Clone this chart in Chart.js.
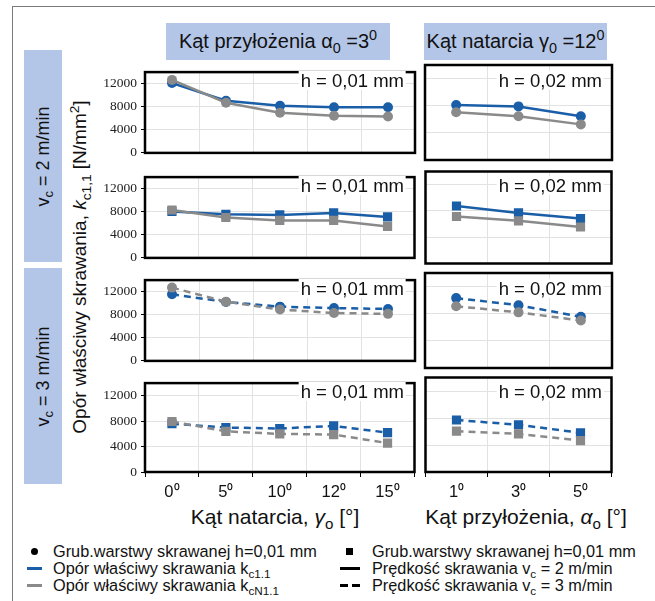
<!DOCTYPE html>
<html>
<head>
<meta charset="utf-8">
<script src="https://cdn.jsdelivr.net/npm/chart.js@4.4.1/dist/chart.umd.min.js"></script>
<style>
  body { margin: 0; background: #fff; font-family: "Liberation Sans", Arial, sans-serif; color: #111; }
  #page { position: relative; width: 655px; height: 601px; overflow: hidden; }
  .frame { position: absolute; left: 12px; top: 6px; width: 700px; height: 700px; border-left: 1px solid #7a7a7a; border-top: 1px solid #7a7a7a; }
  .box { position: absolute; background: #b4c6e7; display: flex; align-items: center; justify-content: center; font-size: 20px; white-space: nowrap; }
  .rot { transform: rotate(-90deg); white-space: nowrap; }
  .panel { position: absolute; }
  .hlab { position: absolute; background: #fff; font-size: 18.5px; line-height: 19px; white-space: nowrap; padding: 0 2px; transform: translateX(-100%); }
  .xtitle { position: absolute; font-size: 21px; white-space: nowrap; transform: translateX(-50%); }
  .ytitle { position: absolute; font-size: 19px; white-space: nowrap; }
  .leg { position: absolute; font-size: 16.3px; white-space: nowrap; line-height: 17px; }
  .mk { position: absolute; background: #000; }
  sub, sup { font-size: 72%; line-height: 0; }
</style>
</head>
<body>
<div id="page">
  <div class="frame"></div>

  <div class="box" style="left:166px;top:23px;width:224px;height:37px;"><span>Kąt przyłożenia α<sub>0</sub> =3<sup>0</sup></span></div>
  <div class="box" style="left:424px;top:23px;width:183px;height:37px;"><span>Kąt natarcia γ<sub>0</sub> =12<sup>0</sup></span></div>

  <div class="box" style="left:24px;top:50px;width:38px;height:212px;font-size:18px;"><span class="rot">v<sub>c</sub> = 2 m/min</span></div>
  <div class="box" style="left:24px;top:268px;width:38px;height:216px;font-size:18px;"><span class="rot">v<sub>c</sub> = 3 m/min</span></div>

  <div class="ytitle rot" style="left:-95px;top:256px;width:350px;text-align:center;">Opór właściwy skrawania, <i>k</i><sub>c1,1</sub> [N/mm<sup>2</sup>]</div>

  <div class="xtitle" style="left:275px;top:505px;">Kąt natarcia, <i>γ</i><sub>o</sub> [°]</div>
  <div class="xtitle" style="left:526px;top:505px;">Kąt przyłożenia, <i>α</i><sub>o</sub> [°]</div>

  <!-- legenda -->
  <div class="mk" style="left:31px;top:548px;width:7px;height:7px;border-radius:50%;"></div>
  <div class="leg" style="left:53px;top:543px;">Grub.warstwy skrawanej h=0,01 mm</div>
  <div class="mk" style="left:27px;top:567px;width:15px;height:3px;background:#1a5ea8;"></div>
  <div class="leg" style="left:53px;top:560px;">Opór właściwy skrawania k<sub>c1.1</sub></div>
  <div class="mk" style="left:27px;top:584px;width:15px;height:3px;background:#8a8a8a;"></div>
  <div class="leg" style="left:53px;top:577px;">Opór właściwy skrawania k<sub>cN1.1</sub></div>

  <div class="mk" style="left:346px;top:548px;width:7px;height:7px;"></div>
  <div class="leg" style="left:372px;top:543px;">Grub.warstwy skrawanej h=0,01 mm</div>
  <div class="mk" style="left:340px;top:567px;width:20px;height:3px;"></div>
  <div class="leg" style="left:372px;top:560px;">Prędkość skrawania v<sub>c</sub> = 2 m/min</div>
  <div class="mk" style="left:340px;top:584px;width:8px;height:3px;"></div>
  <div class="mk" style="left:352px;top:584px;width:8px;height:3px;"></div>
  <div class="leg" style="left:372px;top:577px;">Prędkość skrawania v<sub>c</sub> = 3 m/min</div>
</div>

<script>
// kategorie osi X
const gammaLabels = ['0\u2070', '5\u2070', '10\u2070', '12\u2070', '15\u2070'];
const alphaLabels = ['1\u2070', '3\u2070', '5\u2070'];
const yTicks = [0, 4000, 8000, 12000];

// lewa kolumna (alfa0 = 3), zmienny kat natarcia
const kc_v2_circ_g  = [12100, 9050, 8150, 7900, 7900];
const kcN_v2_circ_g = [12650, 8700, 6950, 6450, 6300];
const kc_v2_sq_g    = [8050, 7550, 7450, 7800, 7100];
const kcN_v2_sq_g   = [8300, 7000, 6500, 6500, 5450];
const kc_v3_circ_g  = [11550, 10200, 9400, 9150, 9000];
const kcN_v3_circ_g = [12700, 10250, 8900, 8300, 8150];
const kc_v3_sq_g    = [7600, 7000, 6850, 7250, 6200];
const kcN_v3_sq_g   = [7950, 6400, 6000, 5900, 4550];

// prawa kolumna (gamma0 = 12), zmienny kat przylozenia
const kc_v2_circ_a  = [8100, 7900, 6450];
const kcN_v2_circ_a = [7050, 6450, 5250];
const kc_v2_sq_a    = [8750, 7700, 6850];
const kcN_v2_sq_a   = [7150, 6500, 5550];
const kc_v3_circ_a  = [10300, 9250, 7550];
const kcN_v3_circ_a = [9100, 8200, 7000];
const kc_v3_sq_a    = [7700, 7000, 5800];
const kcN_v3_sq_a   = [6050, 5650, 4650];

const BLUE = '#1a5ea8';
const GRAY = '#8a8a8a';
const GRID = '#e2e2e2';

// gruba ramka dookola obszaru wykresu
const frameBorder = {
  id: 'frameBorder',
  beforeDatasetsDraw(chart) {
    const a = chart.chartArea, c = chart.ctx;
    c.save();
    c.strokeStyle = '#000';
    c.lineWidth = 2.5;
    c.strokeRect(a.left, a.top, a.right - a.left, a.bottom - a.top);
    c.restore();
  }
};

const page = document.getElementById('page');
const rowTops = [64, 169, 272, 375];
const PH = 97;

function makePanel(row, left, labels, kc, kcN, square, dashed, hText) {
  const bottom = row === 3;
  const div = document.createElement('div');
  div.className = 'panel';
  const cx = left ? 85 : 419;
  const cw = left ? 336 : 199;
  const ch = 4 + PH + (bottom ? 38 : 4);
  div.style.cssText = `left:${cx}px;top:${rowTops[row] - 4}px;width:${cw}px;height:${ch}px;`;
  const cv = document.createElement('canvas');
  div.appendChild(cv);
  page.appendChild(div);

  const ds = (data, color) => ({
    data: data,
    borderColor: color,
    backgroundColor: color,
    borderWidth: 2.5,
    borderDash: dashed ? [7, 5] : [],
    pointStyle: square ? 'rect' : 'circle',
    pointRadius: square ? 6.5 : 5,
    pointBorderWidth: 0,
    tension: 0
  });

  new Chart(cv, {
    type: 'line',
    data: { labels: labels, datasets: [ds(kcN, GRAY), ds(kc, BLUE)] },
    options: {
      responsive: true,
      maintainAspectRatio: false,
      animation: false,
      events: [],
      layout: { padding: { top: 4, right: 6, left: left ? 0 : 6, bottom: bottom ? 0 : 4 } },
      plugins: { legend: { display: false }, tooltip: { enabled: false } },
      scales: {
        x: {
          offset: true,
          border: { display: false },
          grid: { color: GRID, offset: true, drawTicks: bottom, tickLength: 5, tickColor: '#000' },
          ticks: { display: bottom, color: '#111', font: { family: 'Liberation Sans', size: 16.5 }, padding: 6, maxRotation: 0 },
          afterFit: s => { s.height = bottom ? 38 : 0; }
        },
        y: {
          min: 0,
          max: 14000,
          border: { display: false },
          grid: { color: GRID, drawTicks: left, tickLength: 4, tickColor: '#000' },
          ticks: { display: left, color: '#222', padding: 4, font: { family: "'Liberation Serif', 'DejaVu Serif', serif", size: 13.5 }, callback: v => String(v) },
          afterBuildTicks: s => { s.ticks = yTicks.map(v => ({ value: v })); },
          afterFit: s => { s.width = left ? 60 : 0; }
        }
      }
    },
    plugins: [frameBorder]
  });

  const lab = document.createElement('div');
  lab.className = 'hlab';
  lab.textContent = hText;
  lab.style.top = (rowTops[row] + 7) + 'px';
  lab.style.left = (left ? 406 : 604) + 'px';
  page.appendChild(lab);
}

makePanel(0, true, gammaLabels, kc_v2_circ_g, kcN_v2_circ_g, false, false, 'h = 0,01 mm');
makePanel(1, true, gammaLabels, kc_v2_sq_g, kcN_v2_sq_g, true, false, 'h = 0,01 mm');
makePanel(2, true, gammaLabels, kc_v3_circ_g, kcN_v3_circ_g, false, true, 'h = 0,01 mm');
makePanel(3, true, gammaLabels, kc_v3_sq_g, kcN_v3_sq_g, true, true, 'h = 0,01 mm');

makePanel(0, false, alphaLabels, kc_v2_circ_a, kcN_v2_circ_a, false, false, 'h = 0,02 mm');
makePanel(1, false, alphaLabels, kc_v2_sq_a, kcN_v2_sq_a, true, false, 'h = 0,02 mm');
makePanel(2, false, alphaLabels, kc_v3_circ_a, kcN_v3_circ_a, false, true, 'h = 0,02 mm');
makePanel(3, false, alphaLabels, kc_v3_sq_a, kcN_v3_sq_a, true, true, 'h = 0,02 mm');
</script>
</body>
</html>
